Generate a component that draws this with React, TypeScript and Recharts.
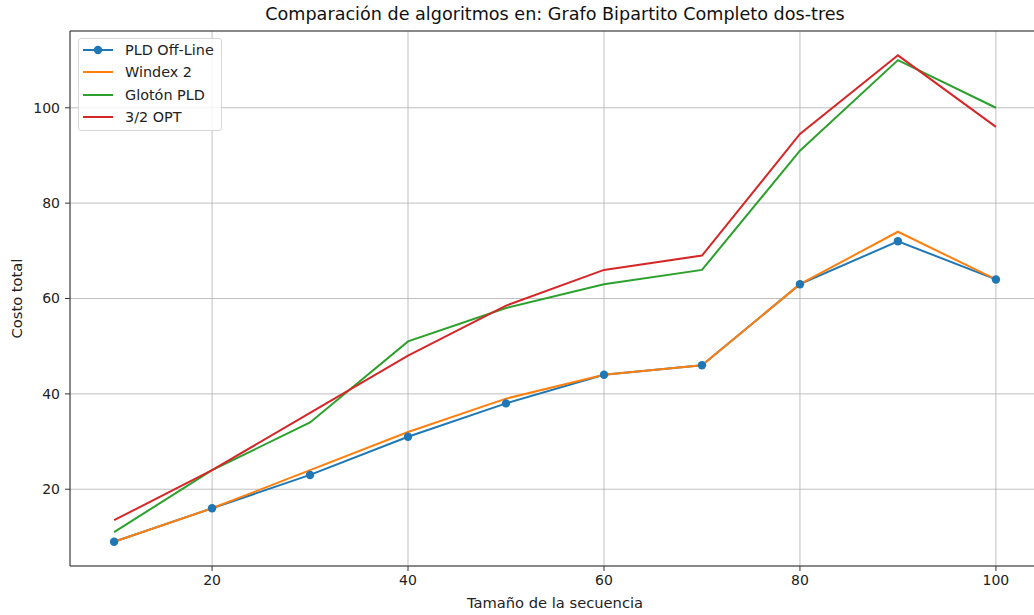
import { LineChart, Line, XAxis, YAxis, CartesianGrid, ReferenceLine } from "recharts"

const sizes = [10, 20, 30, 40, 50, 60, 70, 80, 90, 100]
const pldOffLine = [9, 16, 23, 31, 38, 44, 46, 63, 72, 64]
const windex2 = [9, 16, 24, 32, 39, 44, 46, 63, 74, 64]
const gloton = [11, 24, 34, 51, 58, 63, 66, 91, 110, 100]
const opt32 = [13.5, 24, 36, 48, 58.5, 66, 69, 94.5, 111, 96]

const xTicks = [20, 40, 60, 80, 100]
const yTicks = [20, 40, 60, 80, 100]

const series = [
  { key: "pld", name: "PLD Off-Line", color: "#1f77b4", dot: true },
  { key: "windex", name: "Windex 2", color: "#ff7f0e", dot: false },
  { key: "gloton", name: "Glotón PLD", color: "#2ca02c", dot: false },
  { key: "opt", name: "3/2 OPT", color: "#d62728", dot: false },
]

const data = sizes.map((n, i) => ({
  n,
  pld: pldOffLine[i],
  windex: windex2[i],
  gloton: gloton[i],
  opt: opt32[i],
}))

const font = "'DejaVu Sans', sans-serif"
const tickStyle = { fontSize: 14, fill: "#222", fontFamily: font }
const labelStyle = { fontSize: 14.7, fill: "#222", fontFamily: font }

function LegendBox() {
  return (
    <div
      style={{
        position: "absolute",
        left: 78,
        top: 38,
        width: 144,
        height: 93,
        border: "1px solid #d6d6d6",
        borderRadius: 3,
        background: "rgba(255,255,255,0.8)",
        fontFamily: font,
        fontSize: 14.4,
        color: "#222",
        boxSizing: "border-box",
      }}
    >
      {series.map((s, i) => (
        <div key={s.key} style={{ position: "absolute", left: 3, top: 1 + i * 22.4, height: 20, display: "flex", alignItems: "center" }}>
          <svg width={32} height={20}>
            <line x1={1} x2={31} y1={10} y2={10} stroke={s.color} strokeWidth={2} />
            {s.dot && <circle cx={16} cy={10} r={4.2} fill={s.color} />}
          </svg>
          <span style={{ marginLeft: 11, whiteSpace: "nowrap" }}>{s.name}</span>
        </div>
      ))}
    </div>
  )
}

export default function App() {
  return (
    <div style={{ position: "absolute", left: 0, top: 0, width: 1034, height: 615, overflow: "hidden", background: "#fff" }}>
      <div
        style={{
          position: "absolute",
          left: 70,
          width: 970,
          top: 4,
          textAlign: "center",
          fontFamily: font,
          fontSize: 17.6,
          lineHeight: "20px",
          color: "#111",
        }}
      >
        Comparación de algoritmos en: Grafo Bipartito Completo dos-tres
      </div>
      <LineChart width={1046} height={615} data={data} margin={{ top: 31, right: 6, bottom: 0, left: 0 }}>
        <CartesianGrid stroke="#b0b0b0" strokeWidth={0.8} />
        <XAxis
          dataKey="n"
          type="number"
          domain={[5.5, 104.5]}
          ticks={xTicks}
          height={49}
          tickSize={5}
          tickMargin={4}
          tick={tickStyle}
          stroke="#333"
          axisLine={{ stroke: "#333", strokeWidth: 1 }}
          tickLine={{ stroke: "#333" }}
          label={{ value: "Tamaño de la secuencia", position: "insideBottom", offset: 7, style: labelStyle }}
        />
        <YAxis
          type="number"
          domain={[3.9, 116.1]}
          ticks={yTicks}
          width={70}
          tickSize={5}
          tickMargin={5}
          tick={tickStyle}
          stroke="#333"
          axisLine={{ stroke: "#333", strokeWidth: 1 }}
          tickLine={{ stroke: "#333" }}
          label={{ value: "Costo total", angle: -90, position: "insideLeft", offset: 17, style: { ...labelStyle, textAnchor: "middle" } }}
        />
        <ReferenceLine y={116.1} stroke="#333" strokeWidth={1} />
        {series.map((s) => (
          <Line
            key={s.key}
            dataKey={s.key}
            name={s.name}
            stroke={s.color}
            strokeWidth={2}
            type="linear"
            dot={s.dot ? { r: 4.2, fill: s.color, stroke: s.color, strokeWidth: 0 } : false}
            activeDot={false}
            isAnimationActive={false}
          />
        ))}
      </LineChart>
      <LegendBox />
    </div>
  )
}
